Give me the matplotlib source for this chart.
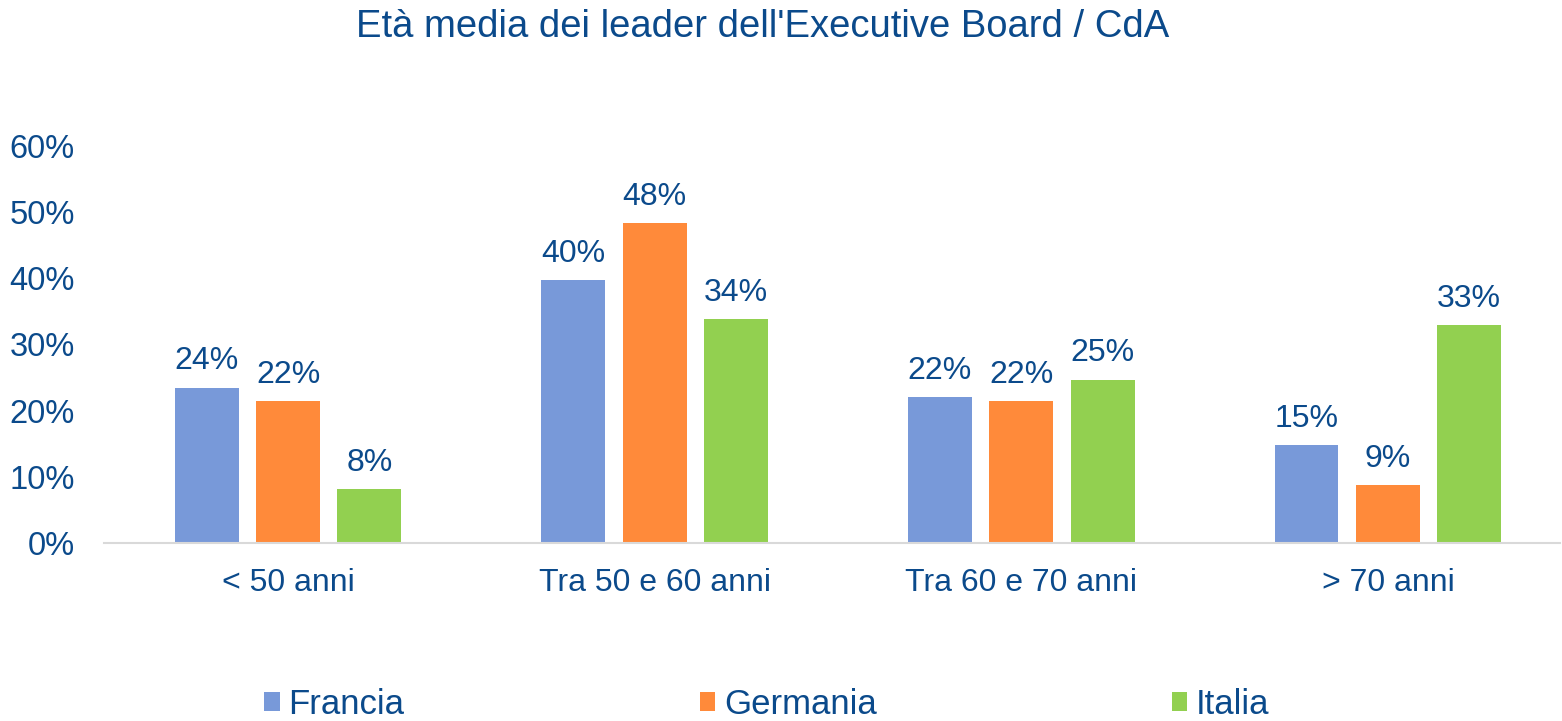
import matplotlib
matplotlib.use("Agg")
import matplotlib.pyplot as plt
import numpy as np

categories = ["< 50 anni", "Tra 50 e 60 anni", "Tra 60 e 70 anni", "> 70 anni"]
series_names = ["Francia", "Germania", "Italia"]
francia = [23.5, 39.7, 22.0, 14.8]
germania = [21.5, 48.3, 21.5, 8.7]
italia = [8.2, 33.9, 24.7, 33.0]
yticks = [0, 10, 20, 30, 40, 50, 60]

colors = ["#7899D9", "#FF8A3A", "#92D050"]
text_color = "#0B4A8B"

plt.rcParams['font.family'] = ['Liberation Sans', 'DejaVu Sans']

fig = plt.figure(figsize=(15.62, 7.21), dpi=100)
ax = fig.add_axes([0.0666, 0.2469, 0.932, 0.5506])

x = np.arange(len(categories))
width = 0.1745
offset = 0.222
for i, (vals, name, c) in enumerate(zip([francia, germania, italia], series_names, colors)):
    pos = x + (i - 1) * offset
    bars = ax.bar(pos, vals, width, color=c, label=name, zorder=2)
    for b, v in zip(bars, vals):
        ax.annotate(f"{v:.0f}%", (b.get_x() + b.get_width() / 2, v),
                    xytext=(0, 8), textcoords="offset points",
                    ha="center", va="bottom", fontsize=23, color=text_color)

ax.set_xlim(-0.502, 3.469)
ax.set_ylim(0, 60)
ax.set_yticks(yticks)
ax.set_yticklabels([f"{t}%" for t in yticks])
ax.set_xticks(x)
ax.set_xticklabels(categories)
ax.tick_params(axis="y", length=0, pad=21, labelsize=23.5, labelcolor=text_color)
ax.tick_params(axis="x", length=0, pad=18, labelsize=23, labelcolor=text_color)
for s in ["top", "right", "left"]:
    ax.spines[s].set_visible(False)
ax.spines["bottom"].set_color("#D9D9D9")
ax.spines["bottom"].set_linewidth(1.5)

fig.text(0.488, 0.962, "Età media dei leader dell'Executive Board / CdA",
         ha="center", va="center", fontsize=27.5, color=text_color)

narrow = ['Liberation Sans Narrow', 'Liberation Sans', 'DejaVu Sans']
leg = fig.legend(loc="center", bbox_to_anchor=(0.491, 0.023), ncol=3, frameon=False,
                 prop={'family': narrow, 'size': 25},
                 handlelength=0.45, handleheight=0.45, handletextpad=0.25,
                 columnspacing=8.5, borderaxespad=0)
for t in leg.get_texts():
    t.set_color(text_color)

fig.savefig("out.png", dpi=100)
